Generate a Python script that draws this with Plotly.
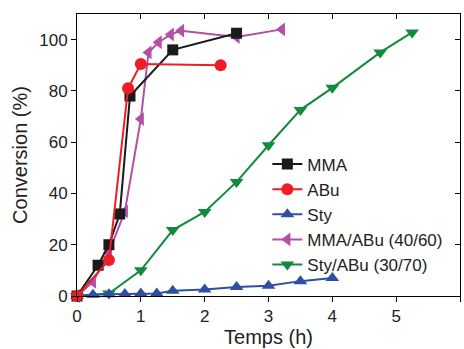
import plotly.graph_objects as go

# Data
mma_x = [0, 0.33, 0.5, 0.67, 0.83, 1.5, 2.5]
mma_y = [0, 12, 20, 32, 78, 96, 102.5]

abu_x = [0, 0.5, 0.8, 1.0, 2.25]
abu_y = [0, 14, 81, 90.5, 90]

sty_x = [0, 0.25, 0.5, 0.75, 1.0, 1.25, 1.5, 2.0, 2.5, 3.0, 3.5, 4.0]
sty_y = [0, 0.5, 0.7, 0.8, 1.0, 1.0, 2.0, 2.5, 3.5, 4.0, 5.8, 7.0]

mix1_x = [0, 0.25, 0.5, 0.75, 1.0, 1.12, 1.28, 1.47, 1.63, 2.5, 3.21]
mix1_y = [0, 5.5, 17, 33, 69, 95, 99, 102, 103.5, 101, 104]

mix2_x = [0, 0.5, 1.0, 1.5, 2.0, 2.5, 3.0, 3.5, 4.0, 4.75, 5.25]
mix2_y = [0, 1, 10, 25.7, 32.8, 44.5, 58.8, 72.6, 81.2, 95, 102.8]

x_ticks = [0, 1, 2, 3, 4, 5, 6]
y_ticks = [0, 20, 40, 60, 80, 100]

FONT = "Liberation Sans, Arial, sans-serif"

fig = go.Figure()

series = [
    ("MMA/ABu (40/60)", mix1_x, mix1_y, "#b44fa6", "triangle-left", 12, 4),
    ("Sty/ABu (30/70)", mix2_x, mix2_y, "#138a3d", "triangle-down", 12, 5),
    ("Sty", sty_x, sty_y, "#2f4fa2", "triangle-up", 12, 3),
    ("MMA", mma_x, mma_y, "#1a1a1a", "square", 11, 1),
    ("ABu", abu_x, abu_y, "#ee1c25", "circle", 12, 2),
]
for name, xs, ys, col, sym, sz, rank in series:
    fig.add_trace(go.Scatter(
        x=xs, y=ys, name=name, mode="lines+markers",
        line=dict(color=col, width=2),
        marker=dict(symbol=sym, size=sz, color=col),
        legendrank=rank, cliponaxis=False,
    ))

# empty trace to activate mirrored inner-tick axes
fig.add_trace(go.Scatter(x=[], y=[], xaxis="x2", yaxis="y2", showlegend=False,
                         hoverinfo="skip"))

axis_common = dict(showgrid=False, zeroline=False, linecolor="black", linewidth=1,
                   automargin=False, tickcolor="black")

fig.update_layout(
    width=464, height=349,
    margin=dict(l=77, r=4, t=14, b=53),
    paper_bgcolor="white", plot_bgcolor="white",
    font=dict(family=FONT, color="#222", size=17),
    xaxis=dict(range=[0, 6], tickvals=x_ticks, ticks="outside", ticklen=5,
               showline=True, mirror=True,
               title=dict(text="Temps (h)", font=dict(size=20), standoff=2),
               tickfont=dict(size=17), **axis_common),
    yaxis=dict(range=[0, 110], tickvals=y_ticks, ticks="outside", ticklen=5,
               showline=True, mirror=True,
               title=dict(text="Conversion (%)", font=dict(size=20), standoff=6),
               tickfont=dict(size=17), **axis_common),
    xaxis2=dict(range=[0, 6], tickvals=x_ticks, overlaying="x", side="top",
                ticks="inside", ticklen=5, tickcolor="black", showticklabels=False,
                showgrid=False, zeroline=False, showline=False, automargin=False),
    yaxis2=dict(range=[0, 110], tickvals=y_ticks, overlaying="y", side="right",
                ticks="inside", ticklen=5, tickcolor="black", showticklabels=False,
                showgrid=False, zeroline=False, showline=False, automargin=False),
    legend=dict(x=0.497, y=0.53, xanchor="left", yanchor="top",
                bgcolor="rgba(0,0,0,0)", font=dict(size=17),
                itemwidth=30, tracegroupgap=0),
    showlegend=True,
)

fig.write_html("out.html", config={"displayModeBar": False},
               post_script="document.body.style.margin='0';")
